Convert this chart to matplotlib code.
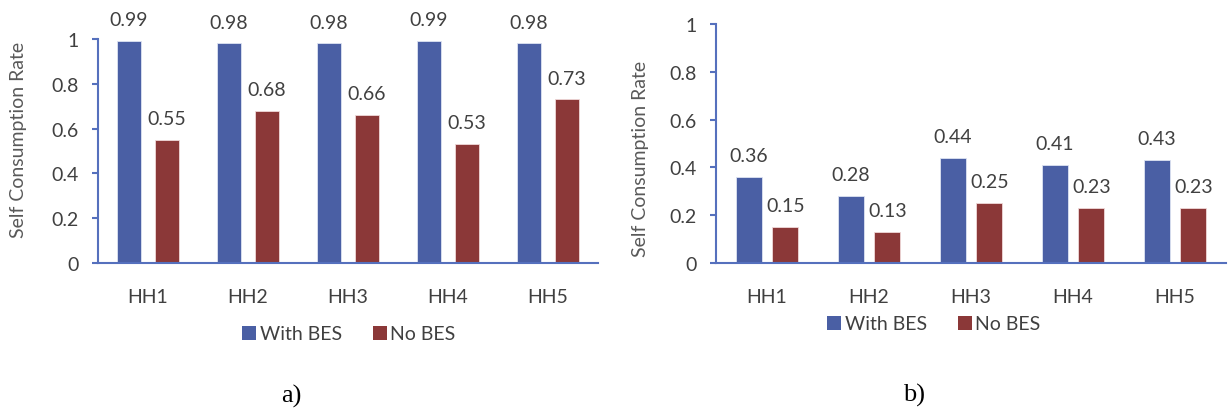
import numpy as np
import matplotlib
matplotlib.use("Agg")
import matplotlib.pyplot as plt
from matplotlib.patches import Patch

# data
households = ["HH1", "HH2", "HH3", "HH4", "HH5"]
with_bes_a = [0.99, 0.98, 0.98, 0.99, 0.98]
no_bes_a = [0.55, 0.68, 0.66, 0.53, 0.73]
with_bes_b = [0.36, 0.28, 0.44, 0.41, 0.43]
no_bes_b = [0.15, 0.13, 0.25, 0.23, 0.23]
y_ticks = [0, 0.2, 0.4, 0.6, 0.8, 1]
y_tick_labels = ["0", "0.2", "0.4", "0.6", "0.8", "1"]

BLUE = "#4a5fa4"
RED = "#8b3838"
AXIS = "#5570bd"
TEXT = "#404040"

plt.rcParams['font.family'] = ['Lato', 'DejaVu Sans']

fig = plt.figure(figsize=(12.29, 4.10), dpi=100)

W, H = 1229, 410


def make_axes(x0, x1, ytop, ybot):
    return fig.add_axes([x0 / W, 1 - ybot / H, (x1 - x0) / W, (ybot - ytop) / H])


def draw_panel(ax, with_vals, no_vals, width, offset, ylabel_pos):
    x = np.arange(len(households))
    b1 = ax.bar(x - offset, with_vals, width, color=BLUE, edgecolor="#dde3f2", linewidth=0.6)
    b2 = ax.bar(x + offset, no_vals, width, color=RED, edgecolor="#f0d8d8", linewidth=0.6)
    for bars, vals in ((b1, with_vals), (b2, no_vals)):
        for rect, v in zip(bars, vals):
            ax.annotate(f"{v:.2f}", (rect.get_x() + rect.get_width() / 2, v),
                        xytext=(0, 11.5), textcoords="offset points",
                        ha="center", va="baseline", fontsize=14, color=TEXT)
    ax.set_xlim(-0.5, len(households) - 0.5)
    ax.set_ylim(0, 1)
    ax.set_yticks(y_ticks)
    ax.set_yticklabels(y_tick_labels)
    ax.set_xticks(x)
    ax.set_xticklabels(households)
    for s in ("top", "right"):
        ax.spines[s].set_visible(False)
    for s in ("left", "bottom"):
        ax.spines[s].set_color(AXIS)
        ax.spines[s].set_linewidth(1.5)
    ax.tick_params(axis="y", length=4.5, width=1.5, color=AXIS, pad=9.5,
                   labelsize=14, labelcolor=TEXT)
    ax.tick_params(axis="x", length=0, pad=18, labelsize=14, labelcolor=TEXT)
    ax.set_ylabel("Self Consumption Rate", fontsize=14, color="#595959")
    ax.yaxis.set_label_coords(*ylabel_pos)
    ax.patch.set_visible(False)


ax1 = make_axes(98, 598, 40, 264)
draw_panel(ax1, with_bes_a, no_bes_a, 0.24, 0.19, (-0.142, 0.554))

ax2 = make_axes(716, 1226, 25, 264)
draw_panel(ax2, with_bes_b, no_bes_b, 0.255, 0.18, (-0.131, 0.439))

handles = [Patch(facecolor=BLUE, label="With BES"), Patch(facecolor=RED, label="No BES")]
for cx, cy in ((349, 335), (934, 325)):
    fig.legend(handles=handles, loc="center", bbox_to_anchor=(cx / W, 1 - cy / H),
               ncol=2, frameon=False, fontsize=14, handlelength=0.7, handleheight=0.7,
               handletextpad=0.2, columnspacing=1.6, labelcolor=TEXT)

fig.text(291 / W, 1 - 396 / H, "a)", ha="center", va="center",
         fontsize=19, family="Liberation Serif", color="black")
fig.text(914 / W, 1 - 395 / H, "b)", ha="center", va="center",
         fontsize=19, family="Liberation Serif", color="black")

fig.savefig("out.png", dpi=100)
